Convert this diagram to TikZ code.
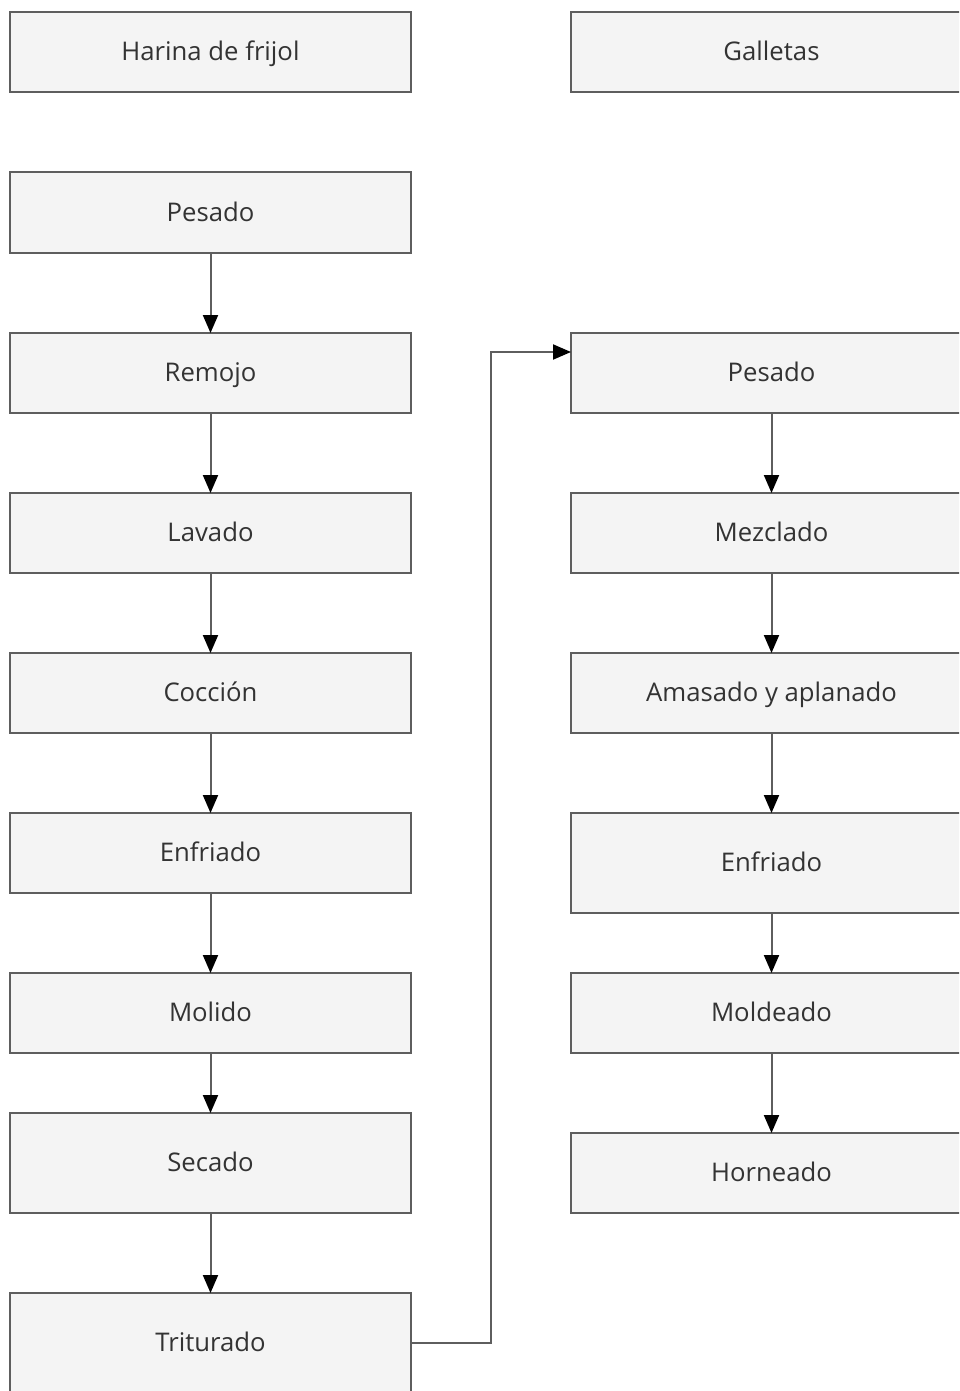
\documentclass[tikz,border=0pt]{standalone}
\usepackage{fontspec}
\setmainfont{Open Sans}
\usetikzlibrary{arrows.meta, positioning}

\definecolor{boxline}{HTML}{5E5E5E}
\definecolor{boxfill}{HTML}{F4F4F4}
\definecolor{boxtext}{HTML}{333333}

\begin{document}
\begin{tikzpicture}[x=1pt, y=-1pt]
    % --- Style Definitions ---
    \tikzset{
        % Process steps
        process box/.style={
            draw=boxline,
            fill=boxfill,
            line width=2pt,
            minimum width=401pt,
            minimum height=80pt,
            inner sep=0pt,
            outer sep=0pt,
            text height=21pt,
            text depth=4pt,
            text=boxtext,
            font=\fontsize{25.7}{30}\selectfont
        },
        tall box/.style={process box, minimum height=100pt},
        % Connectors
        flow arrow/.style={
            draw=boxline,
            line width=2pt,
            -{Triangle[width=15pt, length=18pt, color=black]}
        }
    }

    % page frame
    \path[use as bounding box] (0,0) rectangle (959,1391);
    \clip (0,0) rectangle (959,1391);

    % ==========================================
    % LEFT COLUMN: Harina de frijol
    % ==========================================
    \node[process box] (harina) at (210.5, 52.5) {Harina de frijol};
    \node[process box] (pesado_l) at (210.5, 212.5) {Pesado};
    \node[process box] (remojo) at (210.5, 373) {Remojo};
    \node[process box] (lavado) at (210.5, 533) {Lavado};
    \node[process box] (coccion) at (210.5, 693) {Cocción};
    \node[process box] (enfriado_l) at (210.5, 853) {Enfriado};
    \node[process box] (molido) at (210.5, 1013) {Molido};
    \node[tall box] (secado) at (210.5, 1163) {Secado};
    \node[tall box] (triturado) at (210.5, 1343) {Triturado};

    \draw[flow arrow] (pesado_l) -- (remojo);
    \draw[flow arrow] (remojo) -- (lavado);
    \draw[flow arrow] (lavado) -- (coccion);
    \draw[flow arrow] (coccion) -- (enfriado_l);
    \draw[flow arrow] (enfriado_l) -- (molido);
    \draw[flow arrow] (molido) -- (secado);
    \draw[flow arrow] (secado) -- (triturado);

    % ==========================================
    % RIGHT COLUMN: Galletas
    % ==========================================
    \node[process box] (galletas) at (771.5, 52.5) {Galletas};
    \node[process box] (pesado_r) at (771.5, 373) {Pesado};
    \node[process box] (mezclado) at (771.5, 533) {Mezclado};
    \node[process box] (amasado) at (771.5, 693) {Amasado y aplanado};
    \node[tall box] (enfriado_r) at (771.5, 863) {Enfriado};
    \node[process box] (moldeado) at (771.5, 1013) {Moldeado};
    \node[process box] (horneado) at (771.5, 1173) {Horneado};

    \draw[flow arrow] (pesado_r) -- (mezclado);
    \draw[flow arrow] (mezclado) -- (amasado);
    \draw[flow arrow] (amasado) -- (enfriado_r);
    \draw[flow arrow] (enfriado_r) -- (moldeado);
    \draw[flow arrow] (moldeado) -- (horneado);

    % link between columns
    \coordinate (link_top) at (491, 352);
    \draw[flow arrow] (triturado.east) -| (link_top) -- (link_top -| pesado_r.west);

\end{tikzpicture}
\end{document}
